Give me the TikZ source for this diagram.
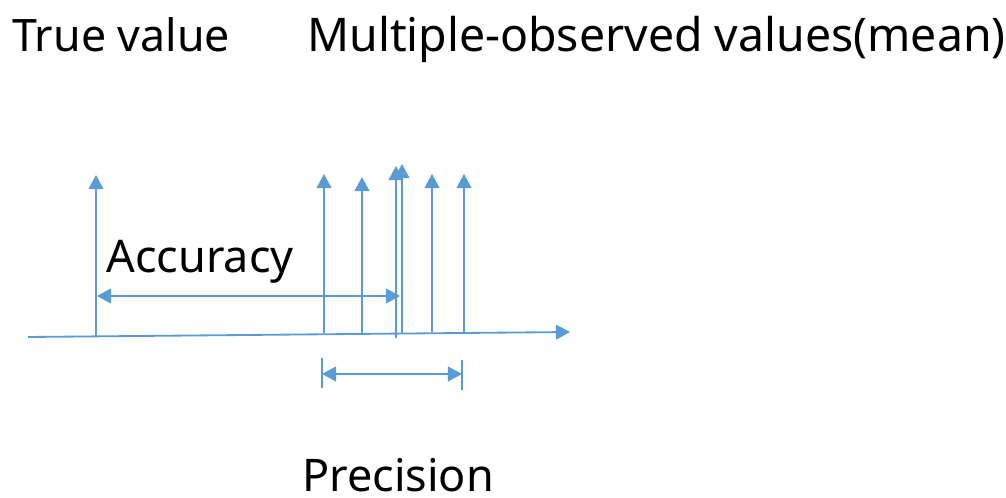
\documentclass[tikz,border=0pt]{standalone}
\usepackage{fontspec}
\setmainfont{Noto Sans}
\usetikzlibrary{arrows.meta, calc}
\definecolor{myblue}{RGB}{91,155,213}

\begin{document}
\begin{tikzpicture}[x=0.025cm, y=-0.025cm]
\tikzset{EdgeStyle/.style = {draw=myblue, line width=1.3pt, -{Triangle[width=10.5pt, length=10pt]}, color=myblue}}
\tikzset{BothStyle/.style = {EdgeStyle, {Triangle[width=10.5pt, length=10pt]}-{Triangle[width=10.5pt, length=10pt]}}}
\tikzset{TickStyle/.style = {draw=myblue, line width=1.3pt}}
\tikzset{TitleStyle/.style = {anchor=base west, inner sep=0pt, font=\fontsize{31.8}{38}\selectfont}}
\tikzset{LabelStyle/.style = {anchor=base west, inner sep=0pt, font=\fontsize{32}{38}\selectfont}}
\useasboundingbox (0,0) rectangle (1006,498);
% titles
\node[TitleStyle] (true-label) at (12,52) {True value};
\node[TitleStyle, font=\fontsize{33}{38}\selectfont] (obs-label) at (307,52) {Multiple-observed values(mean)};
% axis
\coordinate (axis-start) at (28,337);
\coordinate (axis-end) at (570,332);
\draw[EdgeStyle] (axis-start) to (axis-end);
% true value and observed values
\foreach \name/\x/\top/\bot in {t/96/175/337, 1/324/174/333, 2/362/177/333, 3/396/166/338,
                                4/402/164/333, 5/432/174/332, 6/464/174/332} {
    \coordinate (val-\name-bot) at (\x,\bot);
    \coordinate (val-\name-top) at (\x,\top);
    \draw[EdgeStyle] (val-\name-bot) to (val-\name-top);
}
% accuracy
\node[LabelStyle] (acc-label) at (106,273) {Accuracy};
\coordinate (acc-left) at (97,296);
\coordinate (acc-right) at (400,296);
\draw[BothStyle] (acc-left) to (acc-right);
% precision
\coordinate (prec-l-top) at (322,358);
\coordinate (prec-l-bot) at (322,388);
\coordinate (prec-r-top) at (462,360);
\coordinate (prec-r-bot) at (462,390);
\draw[TickStyle] (prec-l-top) to (prec-l-bot);
\draw[TickStyle] (prec-r-top) to (prec-r-bot);
\coordinate (prec-left) at (322,374);
\coordinate (prec-right) at (462,374);
\draw[BothStyle] (prec-left) to (prec-right);
\node[LabelStyle] (prec-label) at (302,491) {Precision};
\end{tikzpicture}
\end{document}
